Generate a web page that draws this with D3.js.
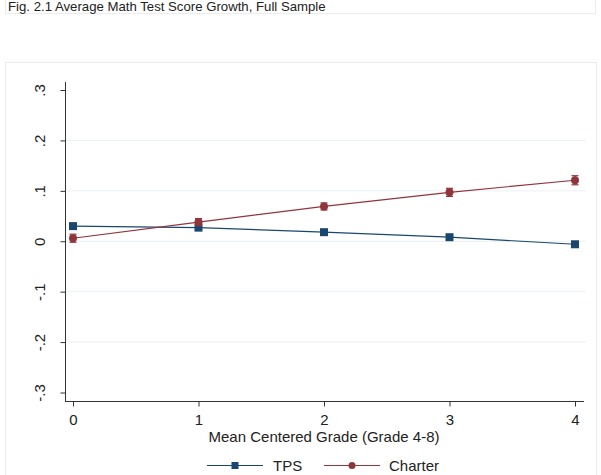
<!DOCTYPE html>
<html>
<head>
<meta charset="utf-8">
<script src="https://cdn.jsdelivr.net/npm/d3@7"></script>
<style>
  body { margin: 0; background: #fff; }
  svg text { font-family: "Liberation Sans", Arial, sans-serif; fill: #222; }
</style>
</head>
<body>
<div id="chart"></div>
<script>
// values
const grades = [0, 1, 2, 3, 4];
const tpsValues = [0.030, 0.027, 0.018, 0.008, -0.006];
const tpsLow = [0.027, 0.024, 0.015, 0.005, -0.009];
const tpsHigh = [0.033, 0.030, 0.021, 0.011, -0.003];
const charterValues = [0.006, 0.038, 0.069, 0.097, 0.121];
const charterLow = [-0.002, 0.031, 0.062, 0.089, 0.112];
const charterHigh = [0.014, 0.045, 0.076, 0.105, 0.130];
const yTicks = [-0.3, -0.2, -0.1, 0, 0.1, 0.2, 0.3];
const yTickLabels = ["-.3", "-.2", "-.1", "0", ".1", ".2", ".3"];
const titleText = "Fig. 2.1 Average Math Test Score Growth, Full Sample";
const xTitle = "Mean Centered Grade (Grade 4-8)";

const width = 601, height = 475;
const navy = "#1a476f", maroon = "#90353b";
const fontSize = 15;

let svg = d3.select("#chart").append("svg")
    .attr("width", width)
    .attr("height", height);

// title box at the very top
svg.append("rect")
    .attr("x", 5.5).attr("y", -10).attr("width", 590).attr("height", 23.5)
    .attr("fill", "#fff").attr("stroke", "#ececec");
svg.append("text")
    .attr("x", 8).attr("y", 10.5)
    .attr("font-size", 13.2)
    .text(titleText);

// graph box
svg.append("rect")
    .attr("x", 5.5).attr("y", 62.5).attr("width", 591).attr("height", 420)
    .attr("fill", "#fff").attr("stroke", "#ececec");

// scales
let x = d3.scaleLinear().domain([0, 4]).range([73, 575]);
let y = d3.scaleLinear().domain([-0.3, 0.3]).range([392.5, 90]);

// grid lines
svg.append("g")
    .selectAll("line")
    .data(yTicks.filter(d => Math.abs(d) < 0.25))
    .join("line")
    .attr("x1", 66).attr("x2", 586)
    .attr("y1", d => y(d)).attr("y2", d => y(d))
    .attr("stroke", "#eaf0f4").attr("stroke-width", 1);

// y axis
let yAxis = svg.append("g")
    .attr("transform", "translate(65.5,0)")
    .call(d3.axisLeft(y).tickValues(yTicks).tickSize(5)
        .tickFormat((d, i) => yTickLabels[i]));
yAxis.select(".domain").attr("d", "M0,82V402").attr("stroke", "#333");
yAxis.selectAll(".tick line").attr("stroke", "#333");
yAxis.selectAll(".tick text")
    .attr("font-size", fontSize)
    .attr("font-family", "Liberation Sans, Arial, sans-serif")
    .attr("fill", "#222")
    .attr("transform", "rotate(-90)")
    .attr("x", 0).attr("y", -21)
    .attr("dy", null)
    .attr("text-anchor", "middle");

// x axis
let xAxis = svg.append("g")
    .attr("transform", "translate(0,401.5)")
    .call(d3.axisBottom(x).tickValues(grades).tickSize(5).tickFormat(d3.format("d")));
xAxis.select(".domain").attr("d", "M65,0H584").attr("stroke", "#333");
xAxis.selectAll(".tick line").attr("stroke", "#333");
xAxis.selectAll(".tick text")
    .attr("font-size", fontSize)
    .attr("font-family", "Liberation Sans, Arial, sans-serif")
    .attr("fill", "#222")
    .attr("y", 13);

svg.append("text")
    .attr("x", 324).attr("y", 442)
    .attr("text-anchor", "middle")
    .attr("font-size", fontSize)
    .text(xTitle);

// series
const series = [
    {name: "TPS", values: tpsValues, low: tpsLow, high: tpsHigh, color: navy, shape: "square"},
    {name: "Charter", values: charterValues, low: charterLow, high: charterHigh, color: maroon, shape: "circle"}
];

series.forEach(function(s) {
    let line = d3.line()
        .x((d, i) => x(grades[i]))
        .y(d => y(d));
    svg.append("path")
        .datum(s.values)
        .attr("fill", "none")
        .attr("stroke", s.color)
        .attr("stroke-width", 1.2)
        .attr("d", line);

    // confidence intervals
    let ci = svg.append("g").attr("stroke", s.color).attr("stroke-width", 1.2);
    grades.forEach(function(g, i) {
        ci.append("line")
            .attr("x1", x(g)).attr("x2", x(g))
            .attr("y1", y(s.low[i])).attr("y2", y(s.high[i]));
        [s.low[i], s.high[i]].forEach(function(v) {
            ci.append("line")
                .attr("x1", x(g) - 3.5).attr("x2", x(g) + 3.5)
                .attr("y1", y(v)).attr("y2", y(v));
        });
    });

    if (s.shape === "square") {
        svg.append("g").selectAll("rect")
            .data(s.values)
            .join("rect")
            .attr("x", (d, i) => x(grades[i]) - 4)
            .attr("y", d => y(d) - 4)
            .attr("width", 8).attr("height", 8)
            .attr("fill", s.color);
    } else {
        svg.append("g").selectAll("circle")
            .data(s.values)
            .join("circle")
            .attr("cx", (d, i) => x(grades[i]))
            .attr("cy", d => y(d))
            .attr("r", 4)
            .attr("fill", s.color);
    }
});

// legend
const legendItems = [
    {name: "TPS", color: navy, shape: "square", x1: 207, x2: 263, tx: 273},
    {name: "Charter", color: maroon, shape: "circle", x1: 324, x2: 380, tx: 389}
];
let legend = svg.append("g");
legendItems.forEach(function(l) {
    let ly = 465.5;
    legend.append("line")
        .attr("x1", l.x1).attr("x2", l.x2)
        .attr("y1", ly).attr("y2", ly)
        .attr("stroke", l.color).attr("stroke-width", 1.2);
    let mid = (l.x1 + l.x2) / 2;
    if (l.shape === "square") {
        legend.append("rect")
            .attr("x", mid - 3.5).attr("y", ly - 3.5)
            .attr("width", 7).attr("height", 7)
            .attr("fill", l.color);
    } else {
        legend.append("circle")
            .attr("cx", mid).attr("cy", ly).attr("r", 3.5)
            .attr("fill", l.color);
    }
    legend.append("text")
        .attr("x", l.tx).attr("y", ly)
        .attr("dy", "0.35em")
        .attr("font-size", fontSize)
        .text(l.name);
});
</script>
</body>
</html>
